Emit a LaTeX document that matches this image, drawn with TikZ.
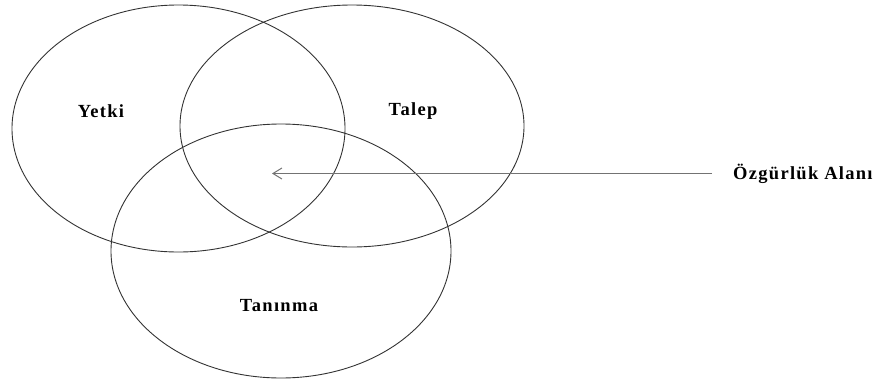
\documentclass[tikz,border=0pt]{standalone}
\usepackage{fontspec}
\setmainfont{Liberation Serif}
\newfontfamily\lblfont[LetterSpace=7,BoldFont={Liberation Serif Bold}]{Liberation Serif}
\usetikzlibrary{arrows.meta}
\begin{document}
\begin{tikzpicture}[x=1pt,y=-1pt,
  setring/.style={draw=black!80,line width=0.9pt},
  lbl/.style={font=\lblfont\bfseries\fontsize{18.5}{20}\selectfont,inner sep=0pt},
  pointer/.style={draw=black!55,line width=1.1pt,-{Straight Barb[length=9pt,width=11pt,line width=1pt]}}]
\useasboundingbox (0,0) rectangle (887,381);
\draw[setring] (178.5,128.5) ellipse [x radius=166.5,y radius=123.5];
\draw[setring] (352,126) ellipse [x radius=172,y radius=121];
\draw[setring] (281,251) ellipse [x radius=170,y radius=127];
\node[lbl] (yetki) at (101,111) {Yetki};
\node[lbl] (talep) at (413,111) {Talep};
\node[lbl] (taninma) at (279,306) {Tanınma};
\node[lbl,anchor=west] (ozg) at (733,174) {Özgürlük Alanı};
\coordinate (tip) at (272,173.5);
\draw[pointer] ([xshift=-21pt]ozg.west |- tip) -- (tip);
\end{tikzpicture}
\end{document}
